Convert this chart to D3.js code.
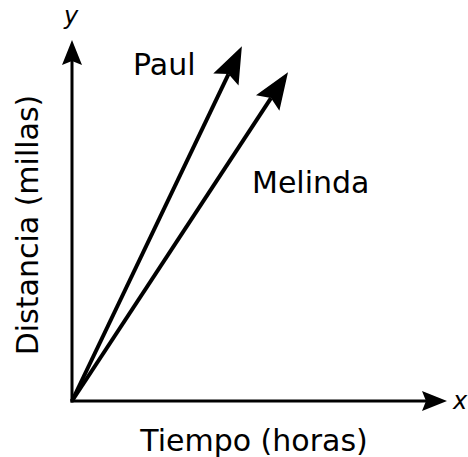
<!DOCTYPE html>
<html>
<head>
<meta charset="utf-8">
<script src="https://cdn.jsdelivr.net/npm/d3@7"></script>
<style>
  body { margin: 0; background: #fff; }
  text { font-family: "DejaVu Sans", Verdana, sans-serif; fill: #000; }
</style>
</head>
<body>
<div id="chart"></div>
<script>
// vectors drawn from the origin, in axis units
const seriesNames = ["Paul", "Melinda"];
const endX = [4.53, 5.76];
const endY = [9.83, 9.11];
const axisMax = [10, 10];
const axisNames = ["x", "y"];
const axisTitles = ["Tiempo (horas)", "Distancia (millas)"];

const width = 468, height = 457;

const svg = d3.select("#chart").append("svg")
    .attr("width", width)
    .attr("height", height);

const x = d3.scaleLinear().domain([0, axisMax[0]]).range([72, 447]);
const y = d3.scaleLinear().domain([0, axisMax[1]]).range([401, 40]);

// draws a shaft from (x0,y0) to the tip (x1,y1) with a filled head
function arrow(x0, y0, x1, y1, sw, len, wid, notch) {
    const dx = x1 - x0, dy = y1 - y0;
    const L = Math.hypot(dx, dy);
    const ux = dx / L, uy = dy / L;
    const back = len - notch;
    svg.append("line")
        .attr("x1", x0).attr("y1", y0)
        .attr("x2", x1 - ux * back).attr("y2", y1 - uy * back)
        .attr("stroke", "#000").attr("stroke-width", sw);
    const ang = Math.atan2(dy, dx) * 180 / Math.PI;
    svg.append("path")
        .attr("transform", `translate(${x1},${y1}) rotate(${ang})`)
        .attr("d", `M0,0 L${-len},${-wid / 2} L${-len + notch},0 L${-len},${wid / 2} Z`)
        .attr("fill", "#000");
}

// axes
arrow(x(0) - 1.5, y(0), x(axisMax[0]), y(0), 3, 25, 20, 4);
arrow(x(0), y(0) + 1.5, x(0), y(axisMax[1]), 3, 25, 20, 4);

// vectors
seriesNames.forEach((d, i) => {
    arrow(x(0), y(0), x(endX[i]), y(endY[i]), 4, 37, 28, 6);
});

// labels
svg.append("text").attr("x", 133).attr("y", 75).attr("font-size", 30).text(seriesNames[0]);
svg.append("text").attr("x", 252).attr("y", 193).attr("font-size", 30).text(seriesNames[1]);

svg.append("text")
    .attr("x", 71).attr("y", 24)
    .attr("text-anchor", "middle")
    .attr("font-size", 24).attr("font-style", "italic")
    .text(axisNames[1]);

svg.append("text")
    .attr("x", 453).attr("y", 409)
    .attr("font-size", 24).attr("font-style", "italic")
    .text(axisNames[0]);

svg.append("text")
    .attr("x", 254).attr("y", 451)
    .attr("text-anchor", "middle")
    .attr("font-size", 30)
    .text(axisTitles[0]);

svg.append("text")
    .attr("transform", "translate(38,225) rotate(-90)")
    .attr("text-anchor", "middle")
    .attr("font-size", 30)
    .text(axisTitles[1]);
</script>
</body>
</html>
